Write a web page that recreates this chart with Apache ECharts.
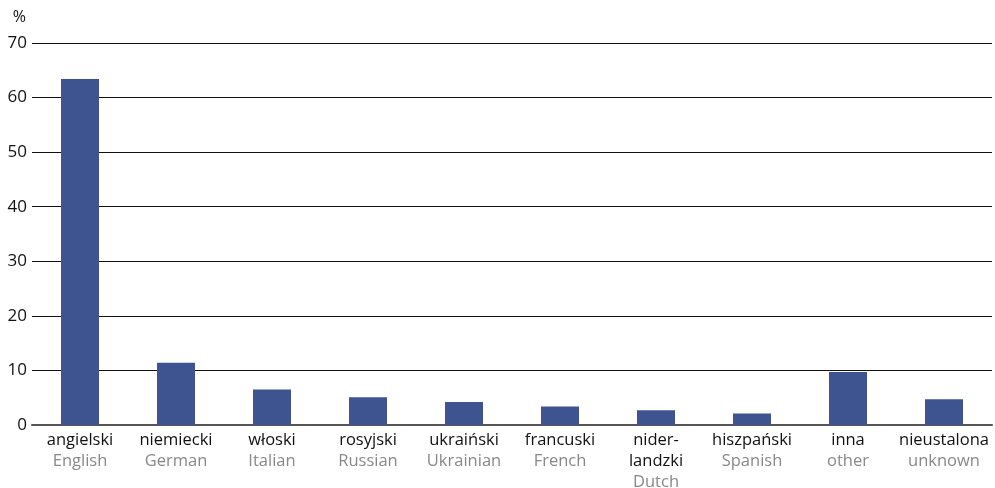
<!DOCTYPE html>
<html>
<head>
<meta charset="utf-8">
<script src="https://cdn.jsdelivr.net/npm/echarts@6/dist/echarts.min.js"></script>
<style>
  html, body { margin: 0; padding: 0; background: #fff; }
  #chart { width: 995px; height: 488px; }
</style>
</head>
<body>
<div id="chart"></div>
<script>
// nazwy po polsku (\n = przeniesienie) i po angielsku
var categoriesPl = ['angielski', 'niemiecki', 'włoski', 'rosyjski', 'ukraiński', 'francuski', 'nider-\nlandzki', 'hiszpański', 'inna', 'nieustalona']
var categoriesEn = ['English', 'German', 'Italian', 'Russian', 'Ukrainian', 'French', 'Dutch', 'Spanish', 'other', 'unknown']
var values = [63.4, 11.4, 6.5, 5.1, 4.2, 3.4, 2.7, 2.1, 9.7, 4.7]
var yTicks = [0, 10, 20, 30, 40, 50, 60, 70]

var myChart = echarts.init(document.getElementById('chart'))

var labels = categoriesPl.map(function (pl, i) {
  return pl.split('\n').map(function (p) { return '{pl|' + p + '}' }).join('\n') + '\n{en|' + categoriesEn[i] + '}'
})

myChart.setOption({
  animation: false,
  textStyle: { fontFamily: 'Open Sans' },
  grid: { left: 32, right: 3, top: 43, bottom: 63, outerBoundsMode: 'none', containLabel: false },
  xAxis: {
    type: 'category',
    data: labels,
    axisTick: { show: false },
    axisLine: { lineStyle: { color: '#555', width: 2 } },
    axisLabel: {
      margin: 5,
      interval: 0,
      rich: {
        pl: { fontSize: 16.5, color: '#111', lineHeight: 21, fontFamily: 'Open Sans' },
        en: { fontSize: 16.5, color: '#888', lineHeight: 21, fontFamily: 'Open Sans' }
      }
    }
  },
  yAxis: {
    type: 'value',
    min: yTicks[0],
    max: yTicks[yTicks.length - 1],
    interval: 10,
    name: '%',
    nameLocation: 'end',
    nameGap: 18,
    nameTextStyle: { fontSize: 16, color: '#111', align: 'right', padding: [0, 6, 0, 0] },
    axisLine: { show: false },
    axisTick: { show: false },
    axisLabel: { fontSize: 17, color: '#111', margin: 5 },
    splitLine: { lineStyle: { color: '#111', width: 1 } }
  },
  series: [{
    type: 'bar',
    data: values,
    barWidth: 38,
    itemStyle: { color: '#3e5490' }
  }]
})
</script>
</body>
</html>
